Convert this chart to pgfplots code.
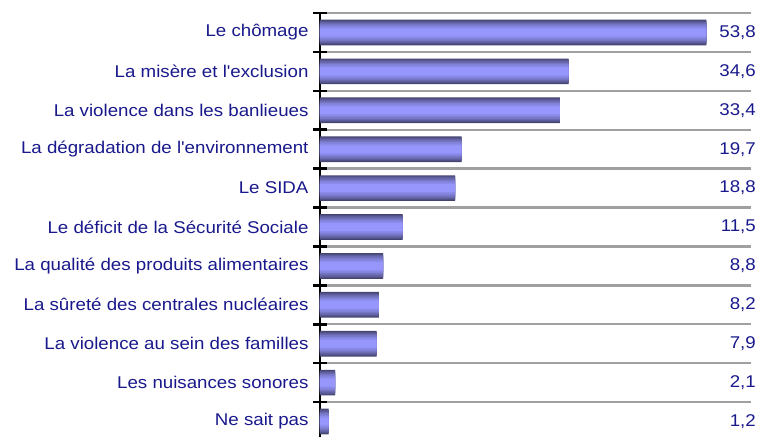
\documentclass[border=0pt]{standalone}
\usepackage{pgfplots}
\usepackage{pgfplotstable}
\pgfplotsset{compat=1.18}
\usepackage{fontspec}
\setmainfont{Liberation Sans}[FakeStretch=1.1, Ligatures=TeXOff]
\definecolor{txt}{RGB}{25,25,140}
\definecolor{bardark}{RGB}{68,68,112}
\definecolor{barlight}{RGB}{150,150,252}
\definecolor{gridc}{RGB}{160,160,160}
\pgfplotstableread{
v y l
53.8 0 53,8
34.6 1 34,6
33.4 2 33,4
19.7 3 19,7
18.8 4 18,8
11.5 5 11,5
8.8 6 8,8
8.2 7 8,2
7.9 8 7,9
2.1 9 2,1
1.2 10 1,2
}\bardata
\pgfplotsset{layer/.style 2 args={xbar, bar shift=0pt, bar width=#1, draw=none, fill=barlight!#2!bardark, mark=none}}
\begin{document}
\begin{tikzpicture}
\begin{axis}[
  at={(0,0)}, anchor=south west,
  scale only axis, width=431bp, height=428bp,
  xmin=0, xmax=60, ymin=-0.5, ymax=10.5, y dir=reverse,
  axis y line*=left, axis x line=none,
  clip=false,
  ytick={0,...,10},
  yticklabels={Le chômage, La misère et l'exclusion, La violence dans les banlieues, La dégradation de l'environnement, Le SIDA, Le déficit de la Sécurité Sociale, La qualité des produits alimentaires, La sûreté des centrales nucléaires, La violence au sein des familles, Les nuisances sonores, Ne sait pas},
  major tick length=0pt,
  minor ytick={-0.5,0.5,...,10.5},
  minor tick length=14bp,
  tick align=center,
  yminorgrids, minor grid style={gridc, line width=2.4bp},
  y axis line style={line width=2.6bp, black, -},
  every tick/.style={black, line width=2.6bp},
  yticklabel style={font=\fontsize{17bp}{20bp}\selectfont, text=txt, xshift=-8bp},
]
\addplot[layer={0.66}{0}] table[x=v, y=y] {\bardata};
\addplot[layer={0.61}{15}] table[x=v, y=y] {\bardata};
\addplot[layer={0.56}{30}] table[x=v, y=y] {\bardata};
\addplot[layer={0.50}{45}] table[x=v, y=y] {\bardata};
\addplot[layer={0.44}{60}] table[x=v, y=y] {\bardata};
\addplot[layer={0.37}{74}] table[x=v, y=y] {\bardata};
\addplot[layer={0.29}{87}] table[x=v, y=y] {\bardata};
\addplot[layer={0.20}{100}] table[x=v, y=y] {\bardata};
\addplot[draw=none, mark=none, nodes near coords, point meta=explicit symbolic,
  nodes near coords style={anchor=east, inner sep=0pt, xshift=5bp, text=txt, font=\fontsize{17bp}{20bp}\selectfont}]
  table[x expr=60, y=y, meta=l] {\bardata};
\end{axis}
\pgfresetboundingbox
\useasboundingbox (-320bp,4bp) rectangle (442bp,441bp);
\end{tikzpicture}
\end{document}
